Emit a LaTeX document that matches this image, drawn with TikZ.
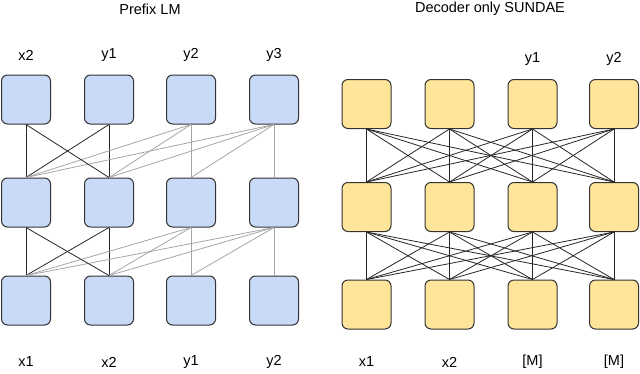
\documentclass[tikz,border=0pt]{standalone}
\usepackage{fontspec}
\setmainfont{Liberation Sans}
\definecolor{cellblue}{HTML}{C9DAF8}
\definecolor{cellyellow}{HTML}{FFE599}
\definecolor{cellborder}{HTML}{333333}
\definecolor{lightline}{HTML}{A6A6A6}
\begin{document}
\begin{tikzpicture}[x=1pt,y=-1pt,
  cell/.style={draw=cellborder,line width=1pt,rounded corners=6pt,minimum width=49pt,minimum height=49pt,inner sep=0pt},
  bluecell/.style={cell,fill=cellblue},
  yellowcell/.style={cell,fill=cellyellow},
  lbl/.style={font=\fontsize{14.5}{16}\selectfont,inner sep=0pt},
  dark/.style={draw=black!85,line width=0.8pt},
  light/.style={draw=lightline,line width=0.8pt}]
\useasboundingbox (0,0) rectangle (640,373);
% titles
\node[lbl] (t1) at (150,9) {Prefix LM};
\node[lbl] (t2) at (490,9) {Decoder only SUNDAE};
% left panel
\foreach \i/\x in {1/26,2/109,3/191,4/274}{
  \node[bluecell] (La\i) at (\x,99.5) {};
  \node[bluecell] (Lb\i) at (\x,202.5) {};
  \node[bluecell] (Lc\i) at (\x,300.5) {};
}
\node[lbl] (lt1) at (26,55) {x2};
\node[lbl] (lt2) at (109,55) {y1};
\node[lbl] (lt3) at (191,55) {y2};
\node[lbl] (lt4) at (274,55) {y3};
\node[lbl] (lb1) at (26,362) {x1};
\node[lbl] (lb2) at (109,362) {x2};
\node[lbl] (lb3) at (191,362) {y1};
\node[lbl] (lb4) at (274,362) {y2};
\foreach \u/\l in {La/Lb,Lb/Lc}{
  \foreach \j in {1,2,3,4}{
    \foreach \k in {1,...,\j}{
      \ifnum\j<3
        \draw[dark] (\u\j.south) -- (\l\k.north);
      \else
        \draw[light] (\u\j.south) -- (\l\k.north);
      \fi
    }
  }
  \draw[dark] (\u1.south) -- (\l2.north);
}
% right panel
\foreach \i/\x in {1/366.5,2/449.5,3/532.5,4/614}{
  \node[yellowcell] (Ra\i) at (\x,104) {};
  \node[yellowcell] (Rb\i) at (\x,207) {};
  \node[yellowcell] (Rc\i) at (\x,304.5) {};
}
\node[lbl] (rt3) at (532.5,59) {y1};
\node[lbl] (rt4) at (614,59) {y2};
\node[lbl] (rb1) at (366.5,362) {x1};
\node[lbl] (rb2) at (449.5,362) {x2};
\node[lbl] (rb3) at (532.5,362) {[M]};
\node[lbl] (rb4) at (614,362) {[M]};
\foreach \u/\l in {Ra/Rb,Rb/Rc}{
  \foreach \j in {1,2,3,4}{
    \foreach \k in {1,2,3,4}{
      \draw[dark] (\u\j.south) -- (\l\k.north);
    }
  }
}
\end{tikzpicture}
\end{document}
